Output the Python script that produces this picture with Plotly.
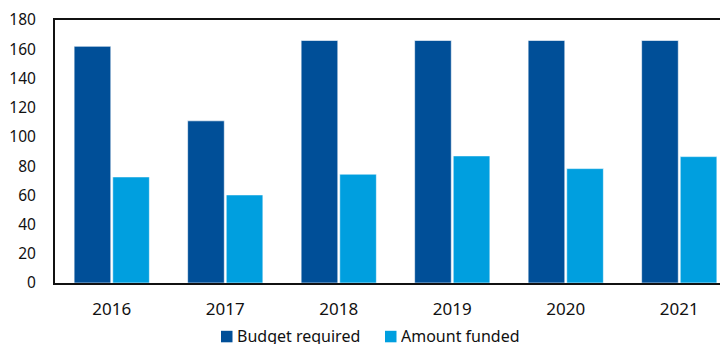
import plotly.graph_objects as go

# Annual figures
years = ["2016", "2017", "2018", "2019", "2020", "2021"]
budget_required = [162, 111, 166, 166, 166, 166]
amount_funded = [72.6, 60.3, 74.5, 87, 78.3, 86.5]

y_ticks = list(range(0, 181, 20))

series_names = ["Budget required", "Amount funded"]
DARK = "#004F98"
LIGHT = "#009FDF"
FONT = "Noto Sans"
TEXT = "#111111"

# Plot area geometry in pixels (used for the hand-placed legend)
W, H = 720, 348
L, T, B = 55, 20, 65
PW, PH = W - L, H - T - B


def px_x(px):
    return (px - L) / PW


def px_y(py):
    return (H - B - py) / PH


fig = go.Figure()
fig.add_trace(go.Bar(
    x=years, y=budget_required, name=series_names[0],
    marker=dict(color=DARK, line=dict(color="rgba(255,255,255,0.6)", width=1)),
))
fig.add_trace(go.Bar(
    x=years, y=amount_funded, name=series_names[1],
    marker=dict(color=LIGHT, line=dict(color="rgba(255,255,255,0.6)", width=1)),
))

# Legend: colour swatch plus label for each series, centred under the chart
LEGEND_MID = 336.3
legend_items = [(series_names[0], DARK, 221, 236), (series_names[1], LIGHT, 385, 400)]
for label, color, sq_left, text_left in legend_items:
    fig.add_shape(
        type="rect", xref="paper", yref="paper",
        x0=px_x(sq_left), x1=px_x(sq_left + 11.5),
        y0=px_y(LEGEND_MID + 6), y1=px_y(LEGEND_MID - 5.5),
        fillcolor=color, line=dict(width=0), layer="above",
    )
    fig.add_annotation(
        xref="paper", yref="paper", x=px_x(text_left), y=px_y(LEGEND_MID),
        xanchor="left", yanchor="middle", text=label, showarrow=False,
        height=16, valign="middle", borderpad=0,
        font=dict(family=FONT, size=16, color=TEXT),
    )

fig.update_layout(
    width=W, height=H,
    margin=dict(l=L, r=0, t=T, b=B),
    paper_bgcolor="white", plot_bgcolor="white",
    barmode="group", bargap=0.32, bargroupgap=0.05,
    font=dict(family=FONT, size=15, color=TEXT),
    showlegend=False,
    xaxis=dict(
        type="category", range=[-0.5, 5.359],
        showline=True, linecolor=TEXT, linewidth=2, mirror=True,
        ticks="", showgrid=False, zeroline=False,
        tickfont=dict(family=FONT, size=17),
        ticklabelstandoff=10,
    ),
    yaxis=dict(
        range=[0, 180], tickvals=y_ticks,
        showline=True, linecolor=TEXT, linewidth=2, mirror=False,
        ticks="", showgrid=False, zeroline=False,
        tickfont=dict(family=FONT, size=15.5),
        ticklabelstandoff=14,
    ),
)

fig.write_html("out.html")
